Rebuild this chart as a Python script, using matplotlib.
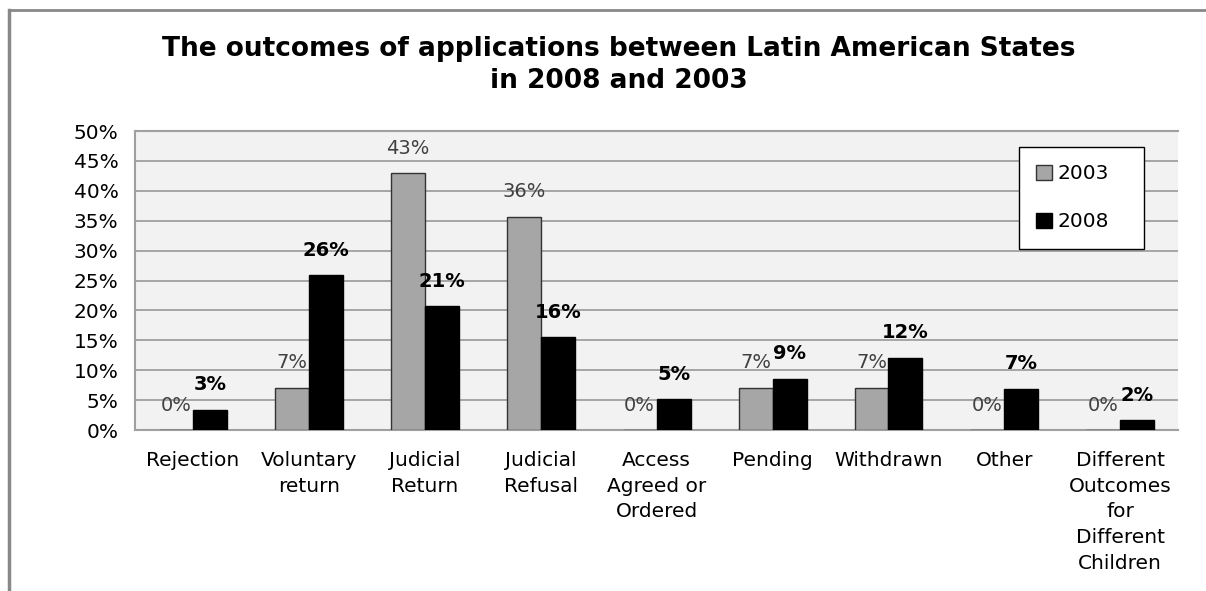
import numpy as np
import matplotlib
matplotlib.use("Agg")
import matplotlib.pyplot as plt
from matplotlib.lines import Line2D
from matplotlib.patches import Patch

categories = ["Rejection", "Voluntary\nreturn", "Judicial\nReturn", "Judicial\nRefusal",
              "Access\nAgreed or\nOrdered", "Pending", "Withdrawn", "Other",
              "Different\nOutcomes\nfor\nDifferent\nChildren"]
vals_2003 = [0, 7.1, 42.9, 35.7, 0, 7.1, 7.1, 0, 0]
vals_2008 = [3.4, 25.9, 20.7, 15.5, 5.2, 8.6, 12.1, 6.9, 1.7]
yticks = [0, 5, 10, 15, 20, 25, 30, 35, 40, 45, 50]

plt.rcParams['font.family'] = ['DejaVu Sans']
fig = plt.figure(figsize=(12.06, 5.91), dpi=100)
ax = fig.add_axes([0.112, 0.2724, 0.865, 0.5059])

x = np.arange(len(categories))
w = 0.293
ax.set_facecolor('#f2f2f2')
ax.bar(x - w/2, vals_2003, w, color='#a6a6a6', edgecolor='#333333', linewidth=1, zorder=3, label='2003')
ax.bar(x + w/2, vals_2008, w, color='black', edgecolor='black', linewidth=1, zorder=3, label='2008')

for i in range(len(categories)):
    ax.annotate(f"{round(vals_2003[i])}%", (x[i] - w/2, vals_2003[i]), xytext=(0, 11),
                textcoords='offset points', ha='center', va='bottom', fontsize=14, color='#404040', zorder=4)
    ax.annotate(f"{round(vals_2008[i])}%", (x[i] + w/2, vals_2008[i]), xytext=(0, 11),
                textcoords='offset points', ha='center', va='bottom', fontsize=14, fontweight='bold', zorder=4)

ax.set_xlim(-0.5, len(categories) - 0.5)
ax.set_ylim(0, 50)
ax.set_yticks(yticks)
ax.set_yticklabels([f"{t}%" for t in yticks])
ax.yaxis.grid(True, color='#a0a0a0', linewidth=1.3, zorder=0)
ax.set_axisbelow(True)
ax.set_xticks(x)
ax.set_xticklabels(categories, linespacing=1.45)
ax.tick_params(axis='x', length=0, pad=15, labelsize=14.5)
ax.tick_params(axis='y', length=0, pad=12, labelsize=14.5)
for s in ax.spines.values():
    s.set_color('#a0a0a0')
    s.set_linewidth(1.5)
ax.spines['right'].set_visible(False)

handles = [Patch(facecolor='#a6a6a6', edgecolor='#333333'), Patch(facecolor='black', edgecolor='black')]
leg = ax.legend(handles, ['2003', '2008'], loc='upper left', bbox_to_anchor=(0.847, 0.612, 0.12, 0.334),
                mode='expand', fontsize=14.5, frameon=True, fancybox=False, edgecolor='black',
                framealpha=1, handlelength=0.8, handleheight=0.8, handletextpad=0.3, labelspacing=1.45,
                borderpad=0.85, borderaxespad=0)
leg.get_frame().set_linewidth(1.0)

fig.text(0.513, 0.89, "The outcomes of applications between Latin American States\nin 2008 and 2003",
         ha='center', va='center', fontsize=19, fontweight='bold', linespacing=1.3)

fig.add_artist(Line2D([0.0075, 0.0075], [0, 0.983], color='#888888', linewidth=2.5, transform=fig.transFigure))
fig.add_artist(Line2D([0.0075, 1.0], [0.983, 0.983], color='#888888', linewidth=2, transform=fig.transFigure))

fig.savefig("out.png", dpi=100)
